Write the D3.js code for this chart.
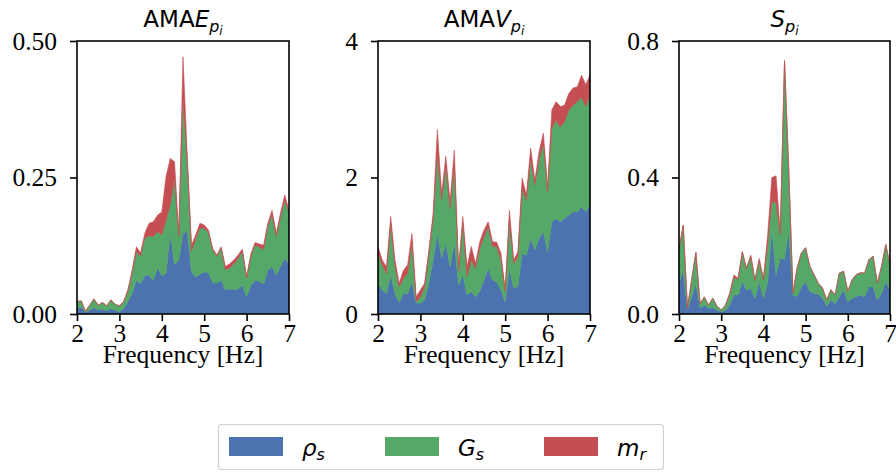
<!DOCTYPE html>
<html>
<head>
<meta charset="utf-8">
<script src="https://cdn.jsdelivr.net/npm/d3@7"></script>
<style>
  body { margin: 0; background: #fff; }
</style>
</head>
<body>
<div class="container"></div>
<script>
const WIDTH = 896;
const HEIGHT = 472;
const SERIF = "Liberation Serif, Times New Roman, serif";

// frequency axis, 2.0 .. 7.0 Hz in 0.1 Hz steps
const freqs = [2.0,2.1,2.2,2.3,2.4,2.5,2.6,2.7,2.8,2.9,3.0,3.1,3.2,3.3,3.4,3.5,3.6,3.7,3.8,3.9,
  4.0,4.1,4.2,4.3,4.4,4.5,4.6,4.7,4.8,4.9,5.0,5.1,5.2,5.3,5.4,5.5,5.6,5.7,5.8,5.9,
  6.0,6.1,6.2,6.3,6.4,6.5,6.6,6.7,6.8,6.9,7.0];

const seriesKeys = ["rho", "G", "m"];
const seriesLabels = ["ρ", "G", "m"];
const seriesSubs = ["s", "s", "r"];
const colors = ["#4c72b0", "#55a868", "#c44e52"];

// AMAE
const amaeRho = [.010,.013,.003,.007,.012,.007,.009,.006,.010,.007,.004,.010,.023,.038,.062,.056,.071,.071,.062,.085,
  .070,.074,.148,.090,.099,.148,.151,.077,.068,.073,.077,.076,.057,.057,.062,.044,.046,.045,.046,.053,
  .032,.052,.062,.060,.055,.080,.087,.071,.088,.102,.092];
const amaeG = [.013,.011,.002,.009,.015,.009,.012,.009,.015,.011,.010,.012,.019,.038,.052,.050,.068,.072,.080,.066,
  .075,.098,.052,.158,.043,.250,.130,.037,.071,.084,.080,.073,.060,.049,.058,.037,.038,.047,.056,.062,
  .034,.054,.064,.063,.063,.080,.096,.071,.090,.107,.093];
const amaeM = [0,0,0,0,.001,0,0,0,.001,0,.001,.001,.002,.004,.009,.006,.009,.023,.027,.030,
  .042,.080,.085,.031,.003,.073,.010,.012,.006,.009,.006,.005,.003,.002,.003,.006,.008,.007,.006,.004,
  .002,.004,.005,.005,.008,.006,.007,.006,.007,.009,.005];

// AMAV
const amavRho = [.46,.35,.30,.57,.30,.17,.30,.30,.47,.16,.16,.21,.45,.79,1.18,.82,1.04,.69,1.06,.42,
  .57,.28,.33,.25,.34,.50,.67,.50,.47,.35,.18,.67,.38,.40,.89,.86,1.11,.94,1.11,1.21,
  .91,1.35,1.40,1.35,1.40,1.45,1.50,1.50,1.57,1.50,1.62];
const amavG = [.44,.37,.29,.76,.39,.23,.22,.30,.59,.02,.09,.19,.44,.61,1.17,.85,1.14,.86,1.12,.20,
  .76,.27,.46,.42,.62,.63,.61,.49,.52,.44,.15,.71,.36,.44,.95,.81,1.15,.95,1.15,1.29,
  .88,1.37,1.44,1.39,1.42,1.54,1.56,1.61,1.61,1.54,1.59];
const amavM = [.09,.07,.10,.10,.10,.05,.12,.12,.12,.07,.10,.05,.05,.07,.35,.10,.13,.10,.22,.07,
  .10,.14,.20,.07,.10,.10,.07,.07,.06,.10,.02,.14,.05,.07,.15,.07,.17,.07,.12,.15,
  .08,.27,.27,.30,.24,.24,.25,.22,.32,.32,.29];

// S
const sRho = [.09,.13,.012,.05,.09,.017,.026,.017,.019,.012,.007,.010,.026,.056,.056,.095,.070,.075,.046,.095,
  .046,.090,.250,.115,.164,.160,.243,.056,.051,.080,.095,.066,.061,.058,.046,.024,.041,.031,.051,.071,
  .036,.046,.051,.056,.051,.080,.080,.041,.061,.095,.071];
const sG = [.10,.13,.005,.05,.09,.013,.024,.009,.027,.011,.005,.015,.032,.051,.046,.086,.062,.094,.052,.062,
  .054,.110,.080,.210,.069,.580,.180,.005,.084,.099,.099,.074,.054,.032,.030,.017,.030,.025,.069,.054,
  .030,.054,.064,.064,.069,.079,.089,.049,.079,.108,.073];
const sM = [0,0,0,0,0,0,0,0,0,0,0,.001,.002,.007,.003,.002,.002,.004,.002,.006,
  .005,.030,.070,.080,.005,.004,.002,0,0,0,0,0,0,0,0,0,0,0,0,0,
  0,0,.001,.001,0,.001,0,0,0,0,0];

const panels = [
  { title: "AMAE", x0: 77, x1: 289, yMax: 0.5, yTicks: [0, 0.25, 0.5], fmt: d3.format(".2f"),
    rho: amaeRho, G: amaeG, m: amaeM },
  { title: "AMAV", x0: 378, x1: 590, yMax: 4, yTicks: [0, 2, 4], fmt: d3.format("d"),
    rho: amavRho, G: amavG, m: amavM },
  { title: "S", x0: 679, x1: 890, yMax: 0.8, yTicks: [0, 0.4, 0.8], fmt: d3.format(".1f"),
    rho: sRho, G: sG, m: sM }
];

const TOP = 41, BOTTOM = 314;

var svg = d3.select(".container")
  .append("svg")
  .attr("width", WIDTH)
  .attr("height", HEIGHT);

panels.forEach(function (p, pi) {
  var rows = freqs.map(function (f, i) {
    return { f: f, rho: p.rho[i], G: p.G[i], m: p.m[i] };
  });
  var stacked = d3.stack().keys(seriesKeys)(rows);

  var x = d3.scaleLinear().domain([2, 7]).range([p.x0, p.x1]);
  var y = d3.scaleLinear().domain([0, p.yMax]).range([BOTTOM, TOP]);

  var clipId = "clip" + pi;
  svg.append("clipPath").attr("id", clipId)
    .append("rect")
    .attr("x", p.x0).attr("y", TOP)
    .attr("width", p.x1 - p.x0).attr("height", BOTTOM - TOP);

  var area = d3.area()
    .x(function (d) { return x(d.data.f); })
    .y0(function (d) { return y(d[0]); })
    .y1(function (d) { return y(d[1]); });

  svg.append("g").attr("clip-path", "url(#" + clipId + ")")
    .selectAll("path")
    .data(stacked)
    .join("path")
    .attr("d", area)
    .attr("fill", function (d, i) { return colors[i]; })
    .attr("stroke", function (d, i) { return colors[i]; })
    .attr("stroke-width", 0.6);

  // frame
  svg.append("rect")
    .attr("x", p.x0).attr("y", TOP)
    .attr("width", p.x1 - p.x0).attr("height", BOTTOM - TOP)
    .attr("fill", "none").attr("stroke", "#000").attr("stroke-width", 1.6);

  var xAxis = svg.append("g")
    .attr("transform", "translate(0," + BOTTOM + ")")
    .call(d3.axisBottom(x).tickValues([2, 3, 4, 5, 6, 7]).tickFormat(d3.format("d"))
      .tickSize(7).tickPadding(3));
  var yAxis = svg.append("g")
    .attr("transform", "translate(" + p.x0 + ",0)")
    .call(d3.axisLeft(y).tickValues(p.yTicks).tickFormat(p.fmt)
      .tickSize(7).tickPadding(13));

  [xAxis, yAxis].forEach(function (g) {
    g.attr("font-family", SERIF).attr("font-size", 25.5);
    g.select(".domain").remove();
    g.selectAll(".tick line").attr("stroke", "#000").attr("stroke-width", 1.6);
    g.selectAll(".tick text").attr("fill", "#000");
  });
  yAxis.selectAll(".tick text").attr("dy", "0.33em");

  svg.append("text")
    .attr("x", (p.x0 + p.x1) / 2)
    .attr("y", 363)
    .attr("text-anchor", "middle")
    .attr("font-family", SERIF)
    .attr("font-size", 25.5)
    .text("Frequency [Hz]");

  // title with mathtext-like subscript p_i
  var t = svg.append("text")
    .attr("x", (p.x0 + p.x1) / 2)
    .attr("y", 27)
    .attr("text-anchor", "middle")
    .attr("font-family", "DejaVu Sans, sans-serif")
    .attr("font-size", 23);
  if (p.title === "S") {
    t.append("tspan").attr("font-style", "italic").text("S");
  } else {
    t.append("tspan").text(p.title.slice(0, -1));
    t.append("tspan").attr("font-style", "italic").text(p.title.slice(-1));
  }
  t.append("tspan").attr("font-style", "italic").attr("font-size", 16).attr("dy", 5).text("p");
  t.append("tspan").attr("font-style", "italic").attr("font-size", 12).attr("dy", 3).text("i");
});

// legend
var legend = svg.append("g");
legend.append("rect")
  .attr("x", 218.5).attr("y", 424.5)
  .attr("width", 445).attr("height", 45)
  .attr("rx", 3)
  .attr("fill", "#fff").attr("stroke", "#d0d0d0").attr("stroke-width", 1.2);

var legendX = [229, 385, 544];
seriesKeys.forEach(function (k, i) {
  legend.append("rect")
    .attr("x", legendX[i]).attr("y", 437)
    .attr("width", 54).attr("height", 19)
    .attr("fill", colors[i]);
  var lt = legend.append("text")
    .attr("x", legendX[i] + 73)
    .attr("y", 456)
    .attr("font-family", "DejaVu Sans, sans-serif")
    .attr("font-style", "italic")
    .attr("font-size", 23);
  lt.append("tspan").text(seriesLabels[i]);
  lt.append("tspan").attr("font-size", 16).attr("dy", 4).text(seriesSubs[i]);
});
</script>
</body>
</html>
